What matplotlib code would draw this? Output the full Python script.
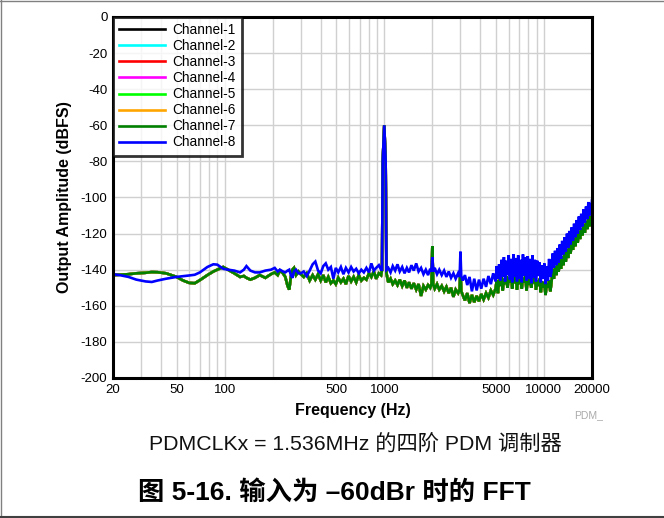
import matplotlib
matplotlib.use("Agg")
import matplotlib.pyplot as plt
from matplotlib.lines import Line2D
from matplotlib.ticker import FixedLocator, NullFormatter, FixedFormatter

# ---------------- data ----------------
freq_hz = [
    20, 22, 25, 28, 32, 35, 38, 43, 50, 55, 60, 65, 70, 78, 85, 90, 98, 105, 115, 125,
    132, 137, 145, 155, 166, 180, 195, 206, 215, 222, 232, 240, 248, 254, 260, 266, 272, 280, 290,
    300, 313, 327, 341, 356, 370, 385, 400, 415, 430, 446, 463, 480, 497, 515, 535, 555, 575,
    597, 620, 643, 667, 692, 718, 745, 773, 802, 830, 860, 890, 925, 955,
    968, 978, 1000, 1020, 1032,
    1060, 1095, 1130, 1170, 1210, 1250, 1295, 1340, 1385, 1430, 1480, 1530, 1585, 1640, 1700,
    1760, 1820, 1880, 1940, 1975, 2000, 2025, 2070, 2140, 2210, 2290, 2370, 2450, 2535, 2620,
    2710, 2800, 2900, 2965, 3000, 3035, 3100, 3200, 3310, 3420, 3540, 3660, 3790, 3920, 4050,
    4190, 4340, 4490, 4650, 4810,
    4980, 5065, 5150, 5240, 5330, 5425, 5520, 5615, 5710, 5810, 5910, 6015, 6120, 6225, 6330,
    6440, 6550, 6665, 6780, 6900, 7020, 7140, 7260, 7390, 7520, 7650, 7780, 7915, 8050, 8190,
    8330, 8475, 8620, 8770, 8920, 9075, 9230, 9395, 9560, 9725, 9890, 10060, 10230, 10410,
    10590, 10775, 10960,
    11150, 11340, 11540, 11740, 11945, 12150, 12360, 12570, 12790, 13010, 13240, 13470, 13700,
    13940, 14180, 14430, 14680, 14930, 15190, 15450, 15720, 15990, 16270, 16550, 16840, 17130,
    17430, 17730, 18040, 18350, 18670, 18990, 19250, 19500, 19750, 20000,
]

ch8_dbfs = [
    -142.5, -143.0, -144.0, -145.5, -146.5, -146.8, -146.0, -145.0, -144.0, -143.6, -143.2, -142.8,
    -141.5, -138.5, -137.0, -137.2, -139.5, -140.0, -140.5, -141.5,
    -140.0, -138.0, -140.5, -141.5, -141.5, -140.5, -140.0, -139.0, -141.0, -140.0, -141.0, -141.5,
    -140.5, -140.0, -143.0, -144.5, -141.0, -140.0, -142.0,
    -142.0, -141.0, -143.5, -140.5, -137.0, -135.5, -140.5, -142.0, -138.0, -136.5, -140.0, -138.5,
    -145.0, -139.0, -141.5, -138.5, -142.5, -139.0,
    -141.5, -138.5, -141.0, -139.5, -142.0, -140.0, -141.5, -139.0, -141.5, -136.5, -140.5, -139.0,
    -137.5, -140.0,
    -140.0, -80.0, -60.0, -80.0, -140.0,
    -139.0, -141.5, -138.0, -140.5, -137.0, -141.0, -138.5, -142.0, -139.0, -141.5, -137.5, -140.5,
    -136.5, -141.0, -139.0,
    -142.5, -140.0, -143.0, -139.5, -141.0, -133.0, -141.0, -139.0, -142.5, -140.0, -143.0, -140.5,
    -144.0, -141.0, -144.5,
    -142.0, -145.0, -142.0, -144.0, -130.0, -143.5, -146.0, -143.0, -148.5, -144.0, -152.0, -145.0,
    -151.5, -145.5, -150.5,
    -145.0, -149.5, -143.5, -148.0, -142.0,
    -146.5, -138.0, -145.0, -137.0, -146.0, -134.5, -144.0, -133.0, -146.5, -135.0, -143.0, -132.0,
    -145.5, -134.0, -147.0,
    -131.5, -144.0, -133.5, -146.5, -132.0, -145.0, -134.5, -147.0, -131.5, -143.5, -133.0, -146.0,
    -132.5, -145.0, -134.0,
    -147.5, -132.0, -144.5, -134.5, -146.5, -135.0, -143.5, -136.0, -147.0, -137.5, -145.0, -136.5,
    -148.0, -138.0,
    -146.0, -134.0, -144.0,
    -141.0, -131.0, -139.0, -129.5, -137.5, -128.0, -136.0, -126.0, -134.0, -124.0, -131.5, -122.0,
    -130.0,
    -120.0, -128.0, -118.5, -126.0, -116.5, -124.0, -114.5, -122.0, -112.5, -120.0, -110.5, -118.0,
    -109.0,
    -116.0, -106.5, -114.0, -105.0, -112.0, -102.5, -110.0, -103.0, -108.0, -101.5,
]

ch7_dbfs = [
    -143.0, -142.8, -142.5, -142.0, -141.7, -141.3, -141.4, -142.0, -144.0, -146.0, -147.3, -147.5,
    -145.8, -143.0, -141.0, -140.0, -138.5, -140.0, -142.0, -144.0,
    -143.5, -144.5, -145.5, -144.5, -143.0, -144.5, -142.5, -141.5, -143.0, -140.5, -142.0, -144.0,
    -149.0, -151.0, -144.0, -140.0, -139.0, -143.0, -141.0,
    -142.5, -144.0, -142.0, -146.0, -143.0, -145.5, -142.5, -146.0, -143.0, -147.0, -144.0, -147.5,
    -146.0, -148.0, -144.5, -147.0, -145.0, -148.0,
    -143.5, -146.5, -144.0, -147.0, -143.0, -146.0, -144.5, -145.5, -142.0, -144.0, -141.0, -145.0,
    -142.0, -143.0,
    -140.0, -80.0, -60.0, -80.0, -142.0,
    -147.0, -145.0, -148.0, -146.0, -148.5, -145.5, -149.0, -146.0, -150.0, -147.0, -150.5, -147.5,
    -151.0, -148.0, -154.5,
    -149.0, -151.0, -148.5, -150.0, -148.0, -127.0, -148.0, -150.5, -148.0, -151.0, -149.0, -152.0,
    -149.5, -153.0, -150.0,
    -155.0, -151.0, -153.0, -151.0, -140.0, -152.0, -154.0, -157.0, -153.0, -158.5, -154.0, -158.0,
    -154.5, -157.5, -153.5,
    -156.5, -153.0, -155.5, -151.5, -154.0,
    -150.5, -146.0, -153.0, -145.5, -149.0, -144.0, -151.5, -145.0, -148.0, -143.5, -150.0, -144.5,
    -147.0, -143.0, -150.5,
    -144.0, -147.5, -143.5, -151.0, -144.5, -148.0, -143.0, -150.5, -144.5, -147.0, -143.5, -151.5,
    -145.0, -148.5, -144.0,
    -150.0, -145.5, -147.5, -144.0, -151.0, -146.0, -149.0, -145.0, -152.5, -146.5, -150.0, -147.0,
    -154.0, -148.0,
    -150.0, -146.0, -152.0,
    -147.0, -140.0, -145.0, -138.0, -143.0, -136.5, -141.0, -134.5, -139.5, -132.5, -137.5, -130.5,
    -135.5,
    -128.5, -133.5, -126.5, -131.0, -124.5, -129.0, -122.5, -127.0, -120.5, -125.0, -118.5, -123.0,
    -117.0,
    -121.0, -115.0, -119.5, -113.0, -117.5, -111.5, -116.0, -110.5, -114.5, -110.0,
]

channel_names = ["Channel-1", "Channel-2", "Channel-3", "Channel-4",
                 "Channel-5", "Channel-6", "Channel-7", "Channel-8"]
channel_colors = ["#000000", "#00ffff", "#ff0000", "#ff00ff",
                  "#00ff00", "#ffa500", "#008000", "#0000ff"]
# channels 1-6 lie under channel 7 in the reference
channel_data = [ch7_dbfs, ch7_dbfs, ch7_dbfs, ch7_dbfs, ch7_dbfs, ch7_dbfs, ch7_dbfs, ch8_dbfs]

x_tick_values = [20, 50, 100, 500, 1000, 5000, 10000, 20000]
x_tick_labels = ["20", "50", "100", "500", "1000", "5000", "10000", "20000"]
y_tick_values = list(range(0, -201, -20))

# ---------------- figure ----------------
latin_cjk = ["Liberation Sans", "Noto Sans CJK SC", "DejaVu Sans"]
plt.rcParams["font.family"] = latin_cjk
plt.rcParams["axes.unicode_minus"] = False

fig = plt.figure(figsize=(6.64, 5.18), dpi=100)
ax = fig.add_axes([113 / 664, 1 - 378 / 518, 479 / 664, 361 / 518])

for data, color, name in zip(channel_data, channel_colors, channel_names):
    ax.plot(freq_hz, data, color=color, lw=1.9, label=name, solid_joinstyle="miter")

ax.set_xscale("log")
ax.set_xlim(20, 20000)
ax.set_ylim(-200, 0)

ax.xaxis.set_major_locator(FixedLocator(x_tick_values))
ax.xaxis.set_major_formatter(FixedFormatter(x_tick_labels))
minor = []
for dec in [10, 100, 1000, 10000]:
    for m in range(1, 10):
        v = dec * m
        if 20 <= v <= 20000:
            minor.append(v)
ax.xaxis.set_minor_locator(FixedLocator(minor))
ax.xaxis.set_minor_formatter(NullFormatter())
ax.set_yticks(y_tick_values)

ax.grid(True, which="both", axis="x", color="#d0d0d0", lw=1.0)
ax.grid(True, which="major", axis="y", color="#d0d0d0", lw=1.0)
ax.set_axisbelow(True)

ax.tick_params(axis="both", which="both", length=0, labelsize=9.5, pad=4)
for s in ax.spines.values():
    s.set_linewidth(2.2)
    s.set_color("black")

ax.set_xlabel("Frequency (Hz)", fontsize=11.5, fontweight="bold", labelpad=5)
ax.set_ylabel("Output Amplitude (dBFS)", fontsize=11.5, fontweight="bold", labelpad=6)

handles = [Line2D([0], [0], color=c, lw=1.9) for c in channel_colors]
leg = ax.legend(handles, channel_names, loc="upper left", borderaxespad=0, fontsize=9.8,
                frameon=True, fancybox=False, handlelength=3.4, handletextpad=0.5,
                labelspacing=0.15, borderpad=0.45)
leg.get_frame().set_edgecolor("black")
leg.get_frame().set_linewidth(2.0)

fig.text(603 / 664, 1 - 415 / 518, "PDM_", fontsize=7.5, color="#aaaaaa", ha="right", va="center")
fig.text(355 / 664, 1 - 445 / 518, "PDMCLKx = 1.536MHz 的四阶 PDM 调制器", fontsize=15.3,
         ha="center", va="center", color="#111111")
fig.text(334 / 664, 1 - 492 / 518, "图 5-16. 输入为 \u201360dBr 时的 FFT", fontsize=19,
         fontweight="bold", ha="center", va="center", color="black")

# page borders
fig.add_artist(Line2D([0.5 / 664, 0.5 / 664], [0, 1], transform=fig.transFigure, color="#808080", lw=1))
fig.add_artist(Line2D([0, 1], [1 - 0.5 / 518, 1 - 0.5 / 518], transform=fig.transFigure, color="#808080", lw=1))
fig.add_artist(Line2D([0, 1], [1 - 516.5 / 518, 1 - 516.5 / 518], transform=fig.transFigure, color="#404040", lw=1.5))

fig.savefig("out.png", dpi=100)
